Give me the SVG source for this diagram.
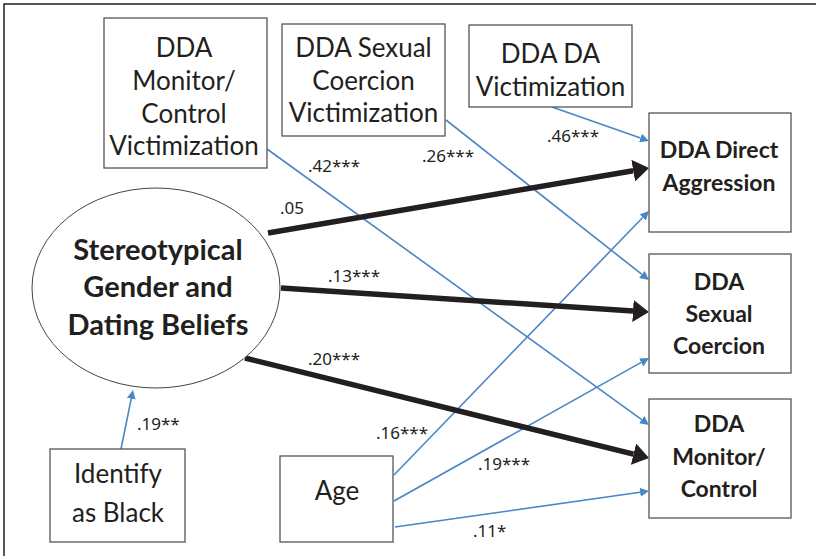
<svg xmlns="http://www.w3.org/2000/svg" width="816" height="556" viewBox="0 0 816 556">
<style>
.bg{fill:#ffffff}
.frame{fill:none;stroke:#231f20;stroke-width:1.5}
.box{fill:#ffffff;stroke:#555555;stroke-width:1.3}
.ell{fill:#ffffff;stroke:#444444;stroke-width:1}
.t{font-family:Lato,"Liberation Sans",sans-serif;font-size:26px;fill:#231f20;text-anchor:middle}
.tb{font-family:Lato,"Liberation Sans",sans-serif;font-size:23px;font-weight:bold;fill:#231f20;text-anchor:middle}
.te{font-family:Lato,"Liberation Sans",sans-serif;font-size:29px;font-weight:bold;fill:#231f20;text-anchor:middle}
.lab{font-family:"Noto Sans","Open Sans",sans-serif;font-size:17px;fill:#231f20}
.thick{stroke:#231f20;stroke-width:5.5;fill:none}
.blue{stroke:#4a86c6;stroke-width:1.6;fill:none}
</style>
<defs>
<marker id="bigArrow" markerUnits="userSpaceOnUse" viewBox="0 -11 16 22" refX="0" refY="0" markerWidth="16" markerHeight="22" orient="auto">
<path d="M0,-11 L16,0 L0,11 z" fill="#231f20"/>
</marker>
<marker id="blueArrow" markerUnits="userSpaceOnUse" viewBox="0 -4.5 9 9" refX="0" refY="0" markerWidth="9" markerHeight="9" orient="auto">
<path d="M0,-4.5 L9,0 L0,4.5 z" fill="#4a86c6"/>
</marker>
</defs>
<rect class="bg" x="0" y="0" width="816" height="556"/>
<rect class="frame" x="4" y="4" width="840" height="600"/>

<g id="connectors">
<line class="blue" x1="267" y1="149" x2="641.7" y2="419.7" marker-end="url(#blueArrow)"/>
<line class="blue" x1="446" y1="120" x2="641.9" y2="274.4" marker-end="url(#blueArrow)"/>
<line class="blue" x1="552" y1="107" x2="640.5" y2="138.0" marker-end="url(#blueArrow)"/>
<line class="blue" x1="394" y1="475" x2="642.7" y2="217.5" marker-end="url(#blueArrow)"/>
<line class="blue" x1="394" y1="501" x2="641.2" y2="362.4" marker-end="url(#blueArrow)"/>
<line class="blue" x1="395" y1="527" x2="640.1" y2="492.3" marker-end="url(#blueArrow)"/>
<line class="blue" x1="121" y1="449" x2="131.2" y2="398.8" marker-end="url(#blueArrow)"/>
<line class="thick" x1="268" y1="233" x2="633.2" y2="170.7" marker-end="url(#bigArrow)"/>
<line class="thick" x1="281" y1="288" x2="633.0" y2="311.0" marker-end="url(#bigArrow)"/>
<line class="thick" x1="245" y1="358" x2="633.5" y2="454.2" marker-end="url(#bigArrow)"/>
<text class="lab" x="280" y="214">.05</text>
<text class="lab" x="328" y="282">.13***</text>
<text class="lab" x="308" y="365">.20***</text>
<text class="lab" x="308" y="172">.42***</text>
<text class="lab" x="422" y="162">.26***</text>
<text class="lab" x="547" y="142">.46***</text>
<text class="lab" x="376" y="439">.16***</text>
<text class="lab" x="478" y="470">.19***</text>
<text class="lab" x="473" y="537">.11*</text>
<text class="lab" x="137" y="430">.19**</text>
</g>

<g id="mcVict">
<rect class="box" x="104" y="18" width="163" height="150"/>
<text class="t" x="184" y="57">DDA</text>
<text class="t" x="184" y="90">Monitor/</text>
<text class="t" x="184" y="123">Control</text>
<text class="t" x="184" y="155">Victimization</text>
</g>
<g id="scVict">
<rect class="box" x="282" y="24" width="163" height="112"/>
<text class="t" x="363.5" y="57">DDA Sexual</text>
<text class="t" x="363.5" y="90">Coercion</text>
<text class="t" x="363.5" y="122">Victimization</text>
</g>
<g id="daVict">
<rect class="box" x="469" y="25" width="163" height="82"/>
<text class="t" x="550.5" y="63">DDA DA</text>
<text class="t" x="550.5" y="96">Victimization</text>
</g>
<g id="directAgg">
<rect class="box" x="649" y="113" width="142" height="119"/>
<text class="tb" x="719" y="158">DDA Direct</text>
<text class="tb" x="719" y="191">Aggression</text>
</g>
<g id="sexCoer">
<rect class="box" x="649" y="254" width="142" height="119"/>
<text class="tb" x="719" y="290">DDA</text>
<text class="tb" x="719" y="322">Sexual</text>
<text class="tb" x="719" y="354">Coercion</text>
</g>
<g id="monCtrl">
<rect class="box" x="649" y="399" width="142" height="119"/>
<text class="tb" x="719" y="432">DDA</text>
<text class="tb" x="719" y="465">Monitor/</text>
<text class="tb" x="719" y="497">Control</text>
</g>
<g id="beliefs">
<ellipse class="ell" cx="156" cy="288" rx="124" ry="100"/>
<text class="te" x="158" y="260">Stereotypical</text>
<text class="te" x="158" y="297">Gender and</text>
<text class="te" x="158" y="335">Dating Beliefs</text>
</g>
<g id="black">
<rect class="box" x="50" y="449" width="135" height="93"/>
<text class="t" x="118" y="483">Identify</text>
<text class="t" x="118" y="522">as Black</text>
</g>
<g id="age">
<rect class="box" x="280" y="456" width="113" height="86"/>
<text class="t" x="337" y="500">Age</text>
</g>
</svg>
